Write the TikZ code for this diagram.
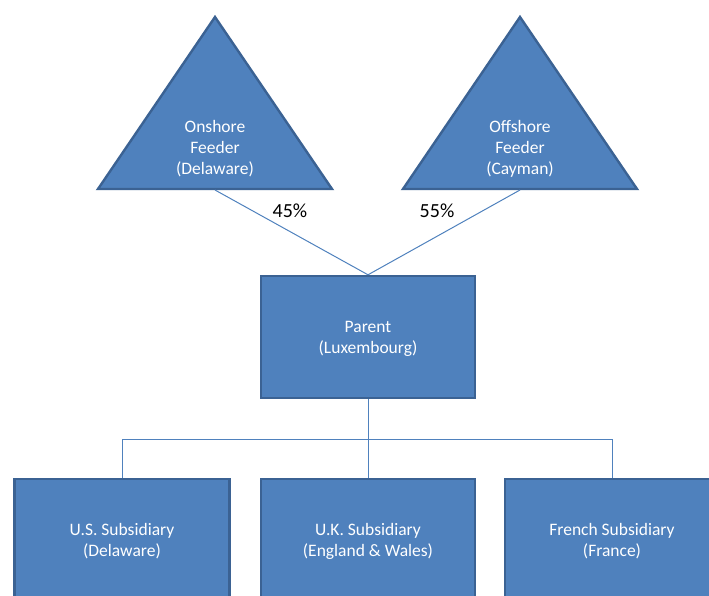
\documentclass[tikz,border=0pt]{standalone}
\usepackage{fontspec}
\setmainfont{Carlito}
\usetikzlibrary{positioning}
\definecolor{boxblue}{HTML}{4F81BD}
\definecolor{edgeblue}{HTML}{3B6293}

\begin{document}
\begin{tikzpicture}[x=1pt,y=-1pt,
  entity/.style={draw=edgeblue,line width=2.4pt,fill=boxblue,minimum width=214pt,minimum height=122pt,
    text=white,align=center,font=\fontsize{17.5}{21}\selectfont,text depth=0pt},
  feeder/.style={draw=edgeblue,line width=2.4pt,fill=boxblue,line join=miter},
  label/.style={text=white,align=center,font=\fontsize{17.5}{21}\selectfont},
  pct/.style={text=black,font=\fontsize{20}{24}\selectfont},
  link/.style={draw=boxblue,line width=1pt}]
  \useasboundingbox (0,0) rectangle (709,596);
  \clip (0,0) rectangle (709,596);
  % Feeder funds (triangles)
  \filldraw[feeder] (98,189) -- (215,17) -- (332,189) -- cycle;
  \coordinate (onshore base) at (215,190);
  \node[label] (onshore) at (215,149) {Onshore\\Feeder\\(Delaware)};
  \filldraw[feeder] (403,189) -- (520,17) -- (637,189) -- cycle;
  \coordinate (offshore base) at (520,190);
  \node[label] (offshore) at (520,149) {Offshore\\Feeder\\(Cayman)};
  % Parent
  \node[entity] (parent) at (368,337) {Parent\\(Luxembourg)};
  % Ownership lines
  \draw[link] (onshore base) -- (parent.north);
  \draw[link] (offshore base) -- (parent.north);
  \node[pct] (pctonshore) at (290,211) {45\%};
  \node[pct] (pctoffshore) at (437,211) {55\%};
  % Subsidiaries
  \node[entity,minimum width=215pt] (us) at (122,540) {U.S. Subsidiary\\(Delaware)};
  \node[entity] (uk) at (368,540) {U.K. Subsidiary\\(England \& Wales)};
  \node[entity] (fr) at (612,540) {French Subsidiary\\(France)};
  % Tree below parent
  \coordinate (split) at (368,439);
  \draw[link] (parent.south) -- (split);
  \draw[link] (split) -| (us.north);
  \draw[link] (split) -- (uk.north);
  \draw[link] (split) -| (fr.north);
\end{tikzpicture}
\end{document}
